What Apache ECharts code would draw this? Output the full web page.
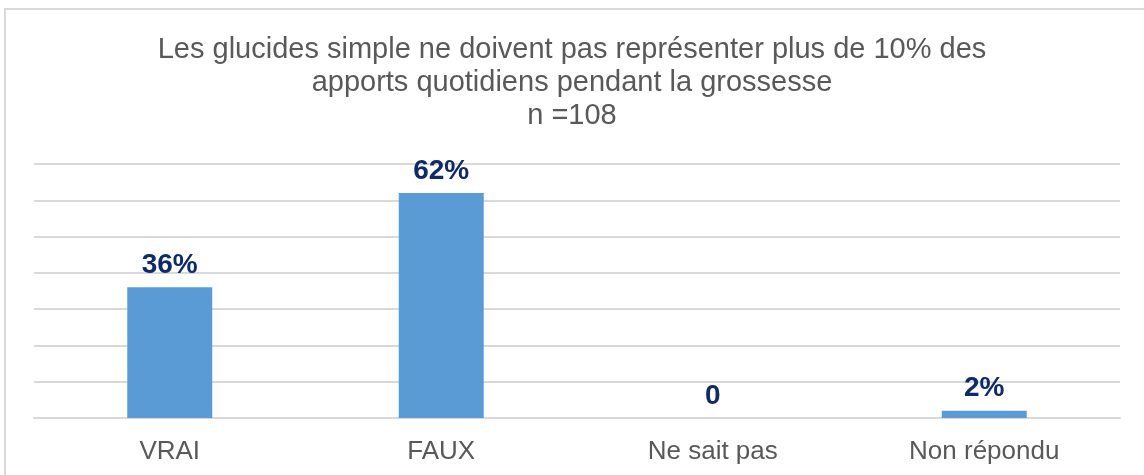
<!DOCTYPE html>
<html>
<head>
<meta charset="utf-8">
<script src="https://cdn.jsdelivr.net/npm/echarts@6/dist/echarts.min.js"></script>
<style>
  html, body { margin: 0; padding: 0; background: #fff; }
  #chart { width: 1144px; height: 475px; }
</style>
</head>
<body>
<div id="chart"></div>
<script>
  var categories = ['VRAI', 'FAUX', 'Ne sait pas', 'Non répondu']
  var values = [36, 62, 0, 2]
  var yTicks = [0, 10, 20, 30, 40, 50, 60, 70]

  var chart = echarts.init(document.getElementById('chart'))
  chart.setOption({
    animation: false,
    title: {
      text: 'Les glucides simple ne doivent pas représenter plus de 10% des\napports quotidiens pendant la grossesse\nn =108',
      left: 'center',
      top: 28,
      textStyle: {
        fontFamily: 'Liberation Sans, Arial, sans-serif',
        fontSize: 29,
        fontWeight: 'normal',
        color: '#595959',
        lineHeight: 33
      }
    },
    graphic: [{
      type: 'rect',
      shape: { x: 5, y: 9, width: 1300, height: 600 },
      style: { fill: 'none', stroke: '#d9d9d9', lineWidth: 2 },
      silent: true
    }],
    grid: { left: 34, right: 24, top: 164, bottom: 57 },
    xAxis: {
      type: 'category',
      data: categories,
      axisLine: { lineStyle: { color: '#d9d9d9', width: 2 } },
      axisTick: { show: false },
      axisLabel: {
        color: '#595959',
        fontSize: 26,
        fontFamily: 'Liberation Sans, Arial, sans-serif',
        margin: 21
      }
    },
    yAxis: {
      type: 'value',
      min: yTicks[0],
      max: yTicks[yTicks.length - 1],
      interval: 10,
      axisLabel: { show: false },
      axisLine: { show: false },
      axisTick: { show: false },
      splitLine: { lineStyle: { color: '#d9d9d9', width: 2 } }
    },
    series: [{
      type: 'bar',
      data: values,
      barWidth: '31.3%',
      itemStyle: { color: '#5b9bd5' },
      label: {
        show: true,
        position: 'top',
        distance: 8,
        color: '#0f2a66',
        fontSize: 28,
        fontWeight: 'bold',
        fontFamily: 'Liberation Sans, Arial, sans-serif',
        formatter: function (p) {
          return p.value === 0 ? '0' : p.value + '%'
        }
      }
    }]
  })
</script>
</body>
</html>
